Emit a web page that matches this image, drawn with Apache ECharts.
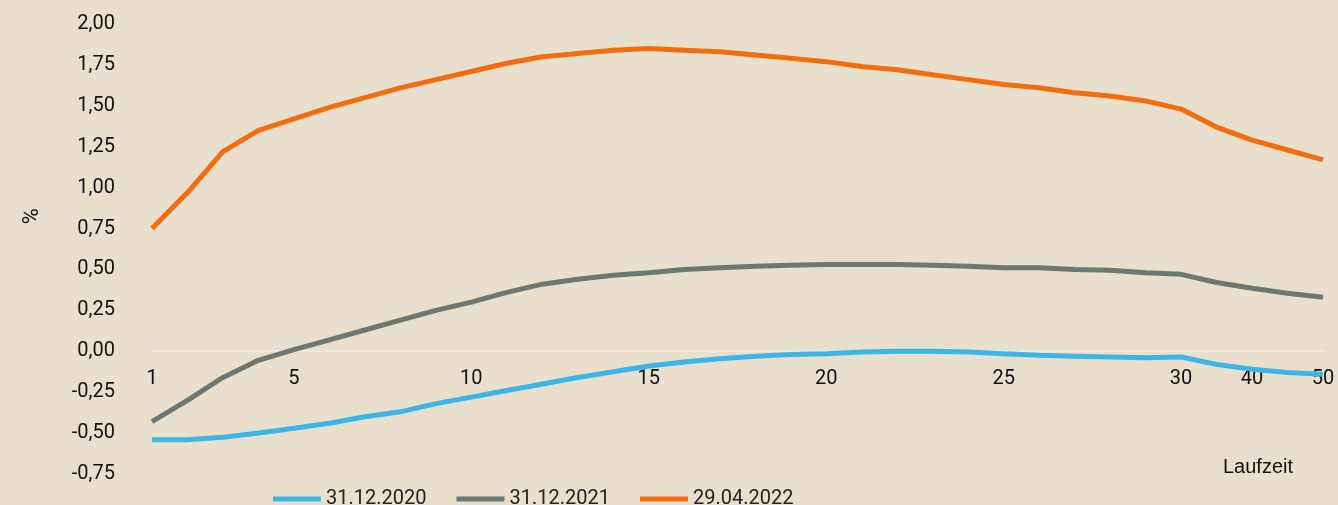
<!DOCTYPE html>
<html>
<head>
<meta charset="utf-8">
<script src="https://cdn.jsdelivr.net/npm/echarts@6/dist/echarts.min.js"></script>
<style>
  html, body { margin: 0; padding: 0; background: #e9dfcd; }
  #chart { width: 1338px; height: 505px; }
</style>
</head>
<body>
<div id="chart"></div>
<script>
// Laufzeit in Jahren
const laufzeit = ['1','2','3','4','5','6','7','8','9','10','11','12','13','14','15','16','17','18','19','20',
  '21','22','23','24','25','26','27','28','29','30','35','40','45','50'];
const shownLabels = ['1','5','10','15','20','25','30','40','50'];

const yield2020 = [-0.54,-0.54,-0.525,-0.50,-0.47,-0.44,-0.40,-0.37,-0.32,-0.28,-0.24,-0.20,-0.16,-0.125,-0.09,-0.065,-0.045,-0.03,-0.02,-0.015,
  -0.005,0.00,0.00,-0.005,-0.015,-0.025,-0.03,-0.035,-0.04,-0.035,-0.08,-0.11,-0.13,-0.14];
const yield2021 = [-0.43,-0.30,-0.16,-0.055,0.01,0.07,0.13,0.19,0.25,0.30,0.36,0.41,0.44,0.465,0.48,0.50,0.51,0.52,0.525,0.53,
  0.53,0.53,0.525,0.52,0.51,0.51,0.50,0.495,0.48,0.47,0.42,0.385,0.355,0.33];
const yield2022 = [0.75,0.97,1.22,1.35,1.42,1.49,1.55,1.61,1.66,1.71,1.76,1.80,1.82,1.84,1.85,1.84,1.83,1.81,1.79,1.77,
  1.74,1.72,1.69,1.66,1.63,1.61,1.58,1.56,1.53,1.48,1.37,1.29,1.23,1.17];

const chart = echarts.init(document.getElementById('chart'));

const fmt = v => v.toFixed(2).replace('.', ',');

const option = {
  backgroundColor: '#e9dfcd',
  animation: false,
  textStyle: { fontFamily: 'Roboto' },
  grid: { left: 152, right: 15, top: 24, height: 450 },
  legend: {
    left: 268, top: 484,
    icon: 'rect', itemWidth: 48, itemHeight: 5, itemGap: 30,
    textStyle: { fontSize: 20, color: '#222', fontFamily: 'Roboto' },
    data: ['31.12.2020', '31.12.2021', '29.04.2022']
  },
  xAxis: {
    type: 'category',
    data: laufzeit,
    boundaryGap: false,
    offset: -123,
    axisLine: { onZero: false, lineStyle: { color: '#efe9dd', width: 2 } },
    axisTick: { show: false },
    axisLabel: {
      interval: 0, margin: 18, fontSize: 20, color: '#111',
      formatter: v => shownLabels.includes(v) ? v : ''
    }
  },
  yAxis: {
    type: 'value', min: -0.75, max: 2, interval: 0.25,
    splitLine: { show: false },
    axisLine: { show: false },
    axisTick: { show: false },
    axisLabel: { margin: 37, fontSize: 20, color: '#111', formatter: fmt }
  },
  graphic: [
    { type: 'text', left: 16, top: 208, rotation: -Math.PI / 2,
      style: { text: '%', fontSize: 22, fill: '#111', fontFamily: 'Roboto' } },
    { type: 'text', left: 1223, top: 457,
      style: { text: 'Laufzeit', fontSize: 20, fill: '#111', fontFamily: 'Liberation Sans' } }
  ],
  series: [
    { name: '31.12.2020', type: 'line', data: yield2020, showSymbol: false,
      color: '#3bb6e6', lineStyle: { width: 5, color: '#3bb6e6' } },
    { name: '31.12.2021', type: 'line', data: yield2021, showSymbol: false,
      color: '#6c7873', lineStyle: { width: 5, color: '#6c7873' } },
    { name: '29.04.2022', type: 'line', data: yield2022, showSymbol: false,
      color: '#f36c0e', lineStyle: { width: 5, color: '#f36c0e' } }
  ]
};

chart.setOption(option);
</script>
</body>
</html>
